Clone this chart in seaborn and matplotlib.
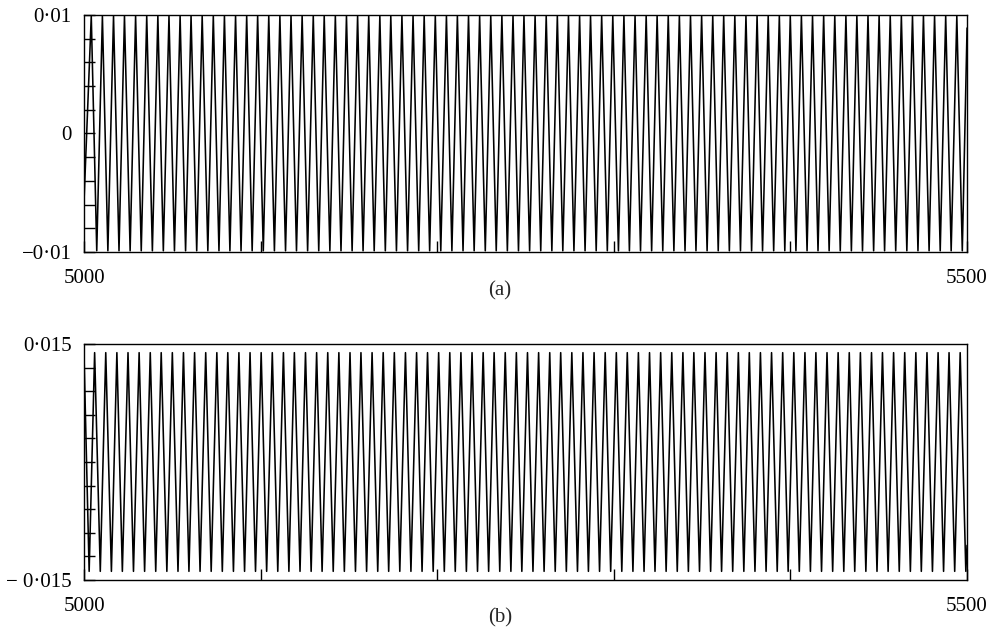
import pandas as pd
import numpy as np
import matplotlib
matplotlib.use('Agg')
import matplotlib.pyplot as plt
import seaborn as sns

# times of the maxima / minima
peaks_a = [5004.1, 5010.4, 5016.7, 5022.9, 5029.2, 5035.5, 5041.8, 5048.1, 5054.4, 5060.6,
           5066.9, 5073.2, 5079.5, 5085.8, 5092.1, 5098.3, 5104.6, 5110.9, 5117.2, 5123.5,
           5129.8, 5136.0, 5142.3, 5148.6, 5154.9, 5161.2, 5167.5, 5173.7, 5180.0, 5186.3,
           5192.6, 5198.9, 5205.2, 5211.4, 5217.7, 5224.0, 5230.3, 5236.6, 5242.9, 5249.1,
           5255.4, 5261.7, 5268.0, 5274.3, 5280.6, 5286.8, 5293.1, 5299.4, 5305.7, 5312.0,
           5318.3, 5324.5, 5330.8, 5337.1, 5343.4, 5349.7, 5356.0, 5362.2, 5368.5, 5374.8,
           5381.1, 5387.4, 5393.7, 5399.9, 5406.2, 5412.5, 5418.8, 5425.1, 5431.4, 5437.6,
           5443.9, 5450.2, 5456.5, 5462.8, 5469.1, 5475.3, 5481.6, 5487.9, 5494.2]
troughs_a = [5007.2, 5013.5, 5019.8, 5026.1, 5032.4, 5038.7, 5044.9, 5051.2, 5057.5, 5063.8,
             5070.1, 5076.4, 5082.6, 5088.9, 5095.2, 5101.5, 5107.8, 5114.1, 5120.3, 5126.6,
             5132.9, 5139.2, 5145.5, 5151.8, 5158.0, 5164.3, 5170.6, 5176.9, 5183.2, 5189.5,
             5195.7, 5202.0, 5208.3, 5214.6, 5220.9, 5227.2, 5233.4, 5239.7, 5246.0, 5252.3,
             5258.6, 5264.9, 5271.1, 5277.4, 5283.7, 5290.0, 5296.3, 5302.6, 5308.8, 5315.1,
             5321.4, 5327.7, 5334.0, 5340.3, 5346.5, 5352.8, 5359.1, 5365.4, 5371.7, 5378.0,
             5384.2, 5390.5, 5396.8, 5403.1, 5409.4, 5415.6, 5421.9, 5428.2, 5434.5, 5440.8,
             5447.1, 5453.3, 5459.6, 5465.9, 5472.2, 5478.5, 5484.8, 5491.0, 5497.3]
amp_a = 0.0099
ends_a = [(5000.0, -0.0057), (5500.0, 0.0089)]

peaks_b = [5006.0, 5012.3, 5018.6, 5024.9, 5031.2, 5037.5, 5043.7, 5050.0, 5056.3, 5062.6,
           5068.9, 5075.2, 5081.4, 5087.7, 5094.0, 5100.3, 5106.6, 5112.9, 5119.1, 5125.4,
           5131.7, 5138.0, 5144.3, 5150.6, 5156.8, 5163.1, 5169.4, 5175.7, 5182.0, 5188.3,
           5194.5, 5200.8, 5207.1, 5213.4, 5219.7, 5226.0, 5232.2, 5238.5, 5244.8, 5251.1,
           5257.4, 5263.7, 5269.9, 5276.2, 5282.5, 5288.8, 5295.1, 5301.4, 5307.6, 5313.9,
           5320.2, 5326.5, 5332.8, 5339.1, 5345.3, 5351.6, 5357.9, 5364.2, 5370.5, 5376.7,
           5383.0, 5389.3, 5395.6, 5401.9, 5408.2, 5414.4, 5420.7, 5427.0, 5433.3, 5439.6,
           5445.9, 5452.1, 5458.4, 5464.7, 5471.0, 5477.3, 5483.6, 5489.8, 5496.1]
troughs_b = [5002.9, 5009.2, 5015.5, 5021.7, 5028.0, 5034.3, 5040.6, 5046.9, 5053.2, 5059.4,
             5065.7, 5072.0, 5078.3, 5084.6, 5090.9, 5097.1, 5103.4, 5109.7, 5116.0, 5122.3,
             5128.6, 5134.8, 5141.1, 5147.4, 5153.7, 5160.0, 5166.3, 5172.5, 5178.8, 5185.1,
             5191.4, 5197.7, 5204.0, 5210.2, 5216.5, 5222.8, 5229.1, 5235.4, 5241.7, 5247.9,
             5254.2, 5260.5, 5266.8, 5273.1, 5279.4, 5285.6, 5291.9, 5298.2, 5304.5, 5310.8,
             5317.1, 5323.3, 5329.6, 5335.9, 5342.2, 5348.5, 5354.8, 5361.0, 5367.3, 5373.6,
             5379.9, 5386.2, 5392.5, 5398.7, 5405.0, 5411.3, 5417.6, 5423.9, 5430.2, 5436.4,
             5442.7, 5449.0, 5455.3, 5461.6, 5467.9, 5474.1, 5480.4, 5486.7, 5493.0, 5499.3]
amp_b = 0.0139
ends_b = [(5000.0, 0.0135), (5500.0, -0.0106)]

x_ticks = [5000, 5100, 5200, 5300, 5400, 5500]
x_labels = ['5000', '', '', '', '', '5500']
y_ticks_a = [-0.01, -0.008, -0.006, -0.004, -0.002, 0, 0.002, 0.004, 0.006, 0.008, 0.01]
y_labels_a = ['\u22120\u00b701', '', '', '', '', '0', '', '', '', '', '0\u00b701']
y_ticks_b = [-0.015, -0.012, -0.009, -0.006, -0.003, 0, 0.003, 0.006, 0.009, 0.012, 0.015]
y_labels_b = ['\u2212 0\u00b7015', '', '', '', '', '', '', '', '', '', '0\u00b7015']


def trace_frame(peaks, troughs, amp, ends):
    t = [ends[0][0]] + peaks + troughs + [ends[1][0]]
    u = [ends[0][1]] + [amp] * len(peaks) + [-amp] * len(troughs) + [ends[1][1]]
    return pd.DataFrame({'t': t, 'u': u}).sort_values('t')


sns.set_style('ticks')
plt.rcParams['font.family'] = ['Liberation Serif', 'DejaVu Serif']
plt.rcParams['axes.linewidth'] = 1.0

fig = plt.figure(figsize=(9.98, 6.29), dpi=100)
ax_a = fig.add_axes([0.0842, 0.5994, 0.8848, 0.3768])
ax_b = fig.add_axes([0.0842, 0.0779, 0.8848, 0.3752])

panels = [
    (ax_a, trace_frame(peaks_a, troughs_a, amp_a, ends_a), y_ticks_a, y_labels_a, (-0.01, 0.01), '(a)', 0.537),
    (ax_b, trace_frame(peaks_b, troughs_b, amp_b, ends_b), y_ticks_b, y_labels_b, (-0.015, 0.015), '(b)', 0.018),
]

for ax, df, yt, yl, ylim, tag, ty in panels:
    sns.lineplot(data=df, x='t', y='u', ax=ax, color='black', linewidth=1.15,
                 estimator=None, sort=True)
    ax.set_xlim(5000, 5500)
    ax.set_ylim(*ylim)
    ax.set_xticks(x_ticks)
    ax.set_xticklabels(x_labels)
    ax.set_yticks(yt)
    ax.set_yticklabels(yl)
    ax.set_xlabel('')
    ax.set_ylabel('')
    for s in ax.spines.values():
        s.set_visible(True)
        s.set_color('black')
    ax.tick_params(axis='both', direction='in', length=8, width=1.0, colors='black',
                   labelsize=15, pad=9)
    ax.tick_params(axis='x', pad=12)
    fig.text(0.501, ty, tag, ha='center', va='center', fontsize=15)

plt.savefig('out.png', dpi=100)
plt.close()
